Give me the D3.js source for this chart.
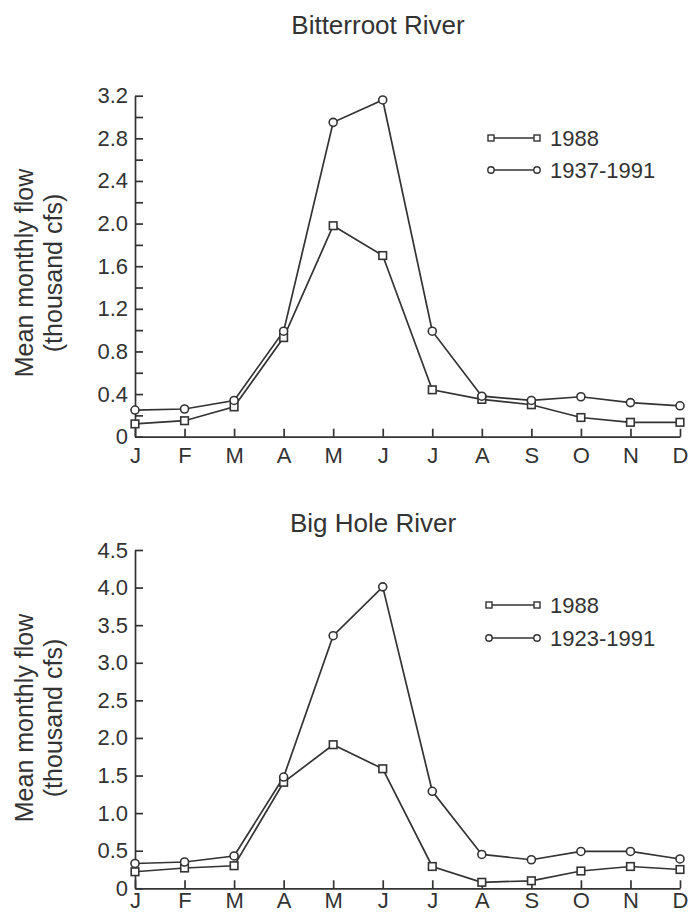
<!DOCTYPE html>
<html>
<head>
<meta charset="utf-8">
<script src="https://cdn.jsdelivr.net/npm/d3@7"></script>
<style>
  html, body { margin: 0; padding: 0; background: #fff; }
  svg { display: block; }
  text { font-family: "Liberation Sans", Arial, Helvetica, sans-serif; fill: #333; }
</style>
</head>
<body>
<svg id="chart" width="689" height="914"></svg>
<script>
// ---------- data ----------
const months = ["J","F","M","A","M","J","J","A","S","O","N","D"];

const bitterrootTitle = "Bitterroot River";
const bitterrootSeriesNames = ["1988", "1937-1991"];
const bitterroot1988 = [0.12, 0.15, 0.28, 0.93, 1.98, 1.70, 0.44, 0.35, 0.30, 0.18, 0.135, 0.135];
const bitterrootAvg  = [0.25, 0.26, 0.34, 0.99, 2.95, 3.16, 0.99, 0.38, 0.34, 0.375, 0.32, 0.29];
const bitterrootTicks = [0,0.2,0.4,0.6,0.8,1.0,1.2,1.4,1.6,1.8,2.0,2.2,2.4,2.6,2.8,3.0,3.2];
const bitterrootTickLabels = ["0","","0.4","","0.8","","1.2","","1.6","","2.0","","2.4","","2.8","","3.2"];

const bigHoleTitle = "Big Hole River";
const bigHoleSeriesNames = ["1988", "1923-1991"];
const bigHole1988 = [0.22, 0.27, 0.30, 1.41, 1.91, 1.59, 0.29, 0.08, 0.10, 0.23, 0.29, 0.25];
const bigHoleAvg  = [0.33, 0.35, 0.43, 1.48, 3.36, 4.01, 1.29, 0.45, 0.38, 0.49, 0.49, 0.39];
const bigHoleTicks = [0,0.5,1.0,1.5,2.0,2.5,3.0,3.5,4.0,4.5];
const bigHoleTickLabels = ["0","0.5","1.0","1.5","2.0","2.5","3.0","3.5","4.0","4.5"];

const yLabelLines = ["Mean monthly flow", "(thousand cfs)"];

// ---------- drawing ----------
const ink = "#333";
const svg = d3.select("#chart");

function drawPanel(p) {
  const g = svg.append("g");
  const x = d3.scaleLinear().domain([0, months.length - 1]).range([p.left, p.right]);
  const y = d3.scaleLinear().domain([0, p.ticks[p.ticks.length - 1]]).range([p.bottom, p.top]);

  // title
  g.append("text")
    .attr("x", p.titleX).attr("y", p.titleY)
    .attr("text-anchor", "middle")
    .style("font-size", "26px")
    .text(p.title);

  // y label
  const yl = g.append("g").attr("transform", `translate(0,${p.yLabelY}) rotate(-90)`);
  yLabelLines.forEach((t, i) => {
    yl.append("text")
      .attr("x", 0).attr("y", p.yLabelX[i])
      .attr("text-anchor", "middle")
      .style("font-size", "25px")
      .text(t);
  });

  // axes
  const yAxis = d3.axisLeft(y)
    .tickValues(p.ticks)
    .tickFormat((d, i) => p.tickLabels[i])
    .tickSizeInner(-8).tickSizeOuter(0).tickPadding(7);
  const ya = g.append("g").attr("transform", `translate(${p.left},0)`).call(yAxis);

  const xAxis = d3.axisBottom(x)
    .tickValues(d3.range(months.length))
    .tickFormat(i => months[i])
    .tickSizeInner(-8).tickSizeOuter(0).tickPadding(p.xPad);
  const xa = g.append("g").attr("transform", `translate(0,${p.bottom})`).call(xAxis);

  [ya, xa].forEach(a => {
    a.selectAll("path, line").attr("stroke", ink).attr("stroke-width", 1.7);
    a.selectAll("text").style("font-size", "22px").attr("fill", ink)
      .style("font-family", '"Liberation Sans", Arial, sans-serif');
  });

  // lines
  const line = d3.line().x((d, i) => x(i)).y(d => y(d));
  const series = [
    { values: p.s1988, shape: "square" },
    { values: p.sAvg, shape: "circle" }
  ];
  series.forEach(s => {
    g.append("path").datum(s.values)
      .attr("d", line).attr("fill", "none")
      .attr("stroke", ink).attr("stroke-width", 1.7).attr("stroke-linejoin", "miter");
  });
  series.forEach(s => {
    const mk = g.append("g");
    if (s.shape === "square") {
      mk.selectAll("rect").data(s.values).join("rect")
        .attr("x", (d, i) => x(i) - 3.8).attr("y", d => y(d) - 3.8)
        .attr("width", 7.6).attr("height", 7.6)
        .attr("fill", "#fff").attr("stroke", ink).attr("stroke-width", 1.6);
    } else {
      mk.selectAll("circle").data(s.values).join("circle")
        .attr("cx", (d, i) => x(i)).attr("cy", d => y(d)).attr("r", 4)
        .attr("fill", "#fff").attr("stroke", ink).attr("stroke-width", 1.6);
    }
  });

  // legend
  const lg = g.append("g");
  p.names.forEach((name, i) => {
    const cy = p.legendY + i * p.legendDy;
    lg.append("line").attr("x1", p.legendX1).attr("x2", p.legendX2)
      .attr("y1", cy).attr("y2", cy).attr("stroke", ink).attr("stroke-width", 1.5);
    [p.legendX1, p.legendX2].forEach(cx => {
      if (i === 0) {
        lg.append("rect").attr("x", cx - 3).attr("y", cy - 3).attr("width", 6).attr("height", 6)
          .attr("fill", "#fff").attr("stroke", ink).attr("stroke-width", 1.4);
      } else {
        lg.append("circle").attr("cx", cx).attr("cy", cy).attr("r", 3.2)
          .attr("fill", "#fff").attr("stroke", ink).attr("stroke-width", 1.4);
      }
    });
    lg.append("text").attr("x", p.legendX2 + 13).attr("y", cy + 8)
      .style("font-size", "22px").text(name);
  });
}

drawPanel({
  title: bitterrootTitle, titleX: 378, titleY: 34,
  left: 135, right: 680, top: 95.7, bottom: 436.7, xPad: 11,
  ticks: bitterrootTicks, tickLabels: bitterrootTickLabels,
  s1988: bitterroot1988, sAvg: bitterrootAvg, names: bitterrootSeriesNames,
  yLabelY: 273, yLabelX: [33, 62],
  legendX1: 491, legendX2: 537, legendY: 138, legendDy: 32
});

drawPanel({
  title: bigHoleTitle, titleX: 373, titleY: 532,
  left: 135, right: 680, top: 550, bottom: 888.3, xPad: 4,
  ticks: bigHoleTicks, tickLabels: bigHoleTickLabels,
  s1988: bigHole1988, sAvg: bigHoleAvg, names: bigHoleSeriesNames,
  yLabelY: 718, yLabelX: [33, 62],
  legendX1: 489, legendX2: 537, legendY: 605, legendDy: 33
});
</script>
</body>
</html>
